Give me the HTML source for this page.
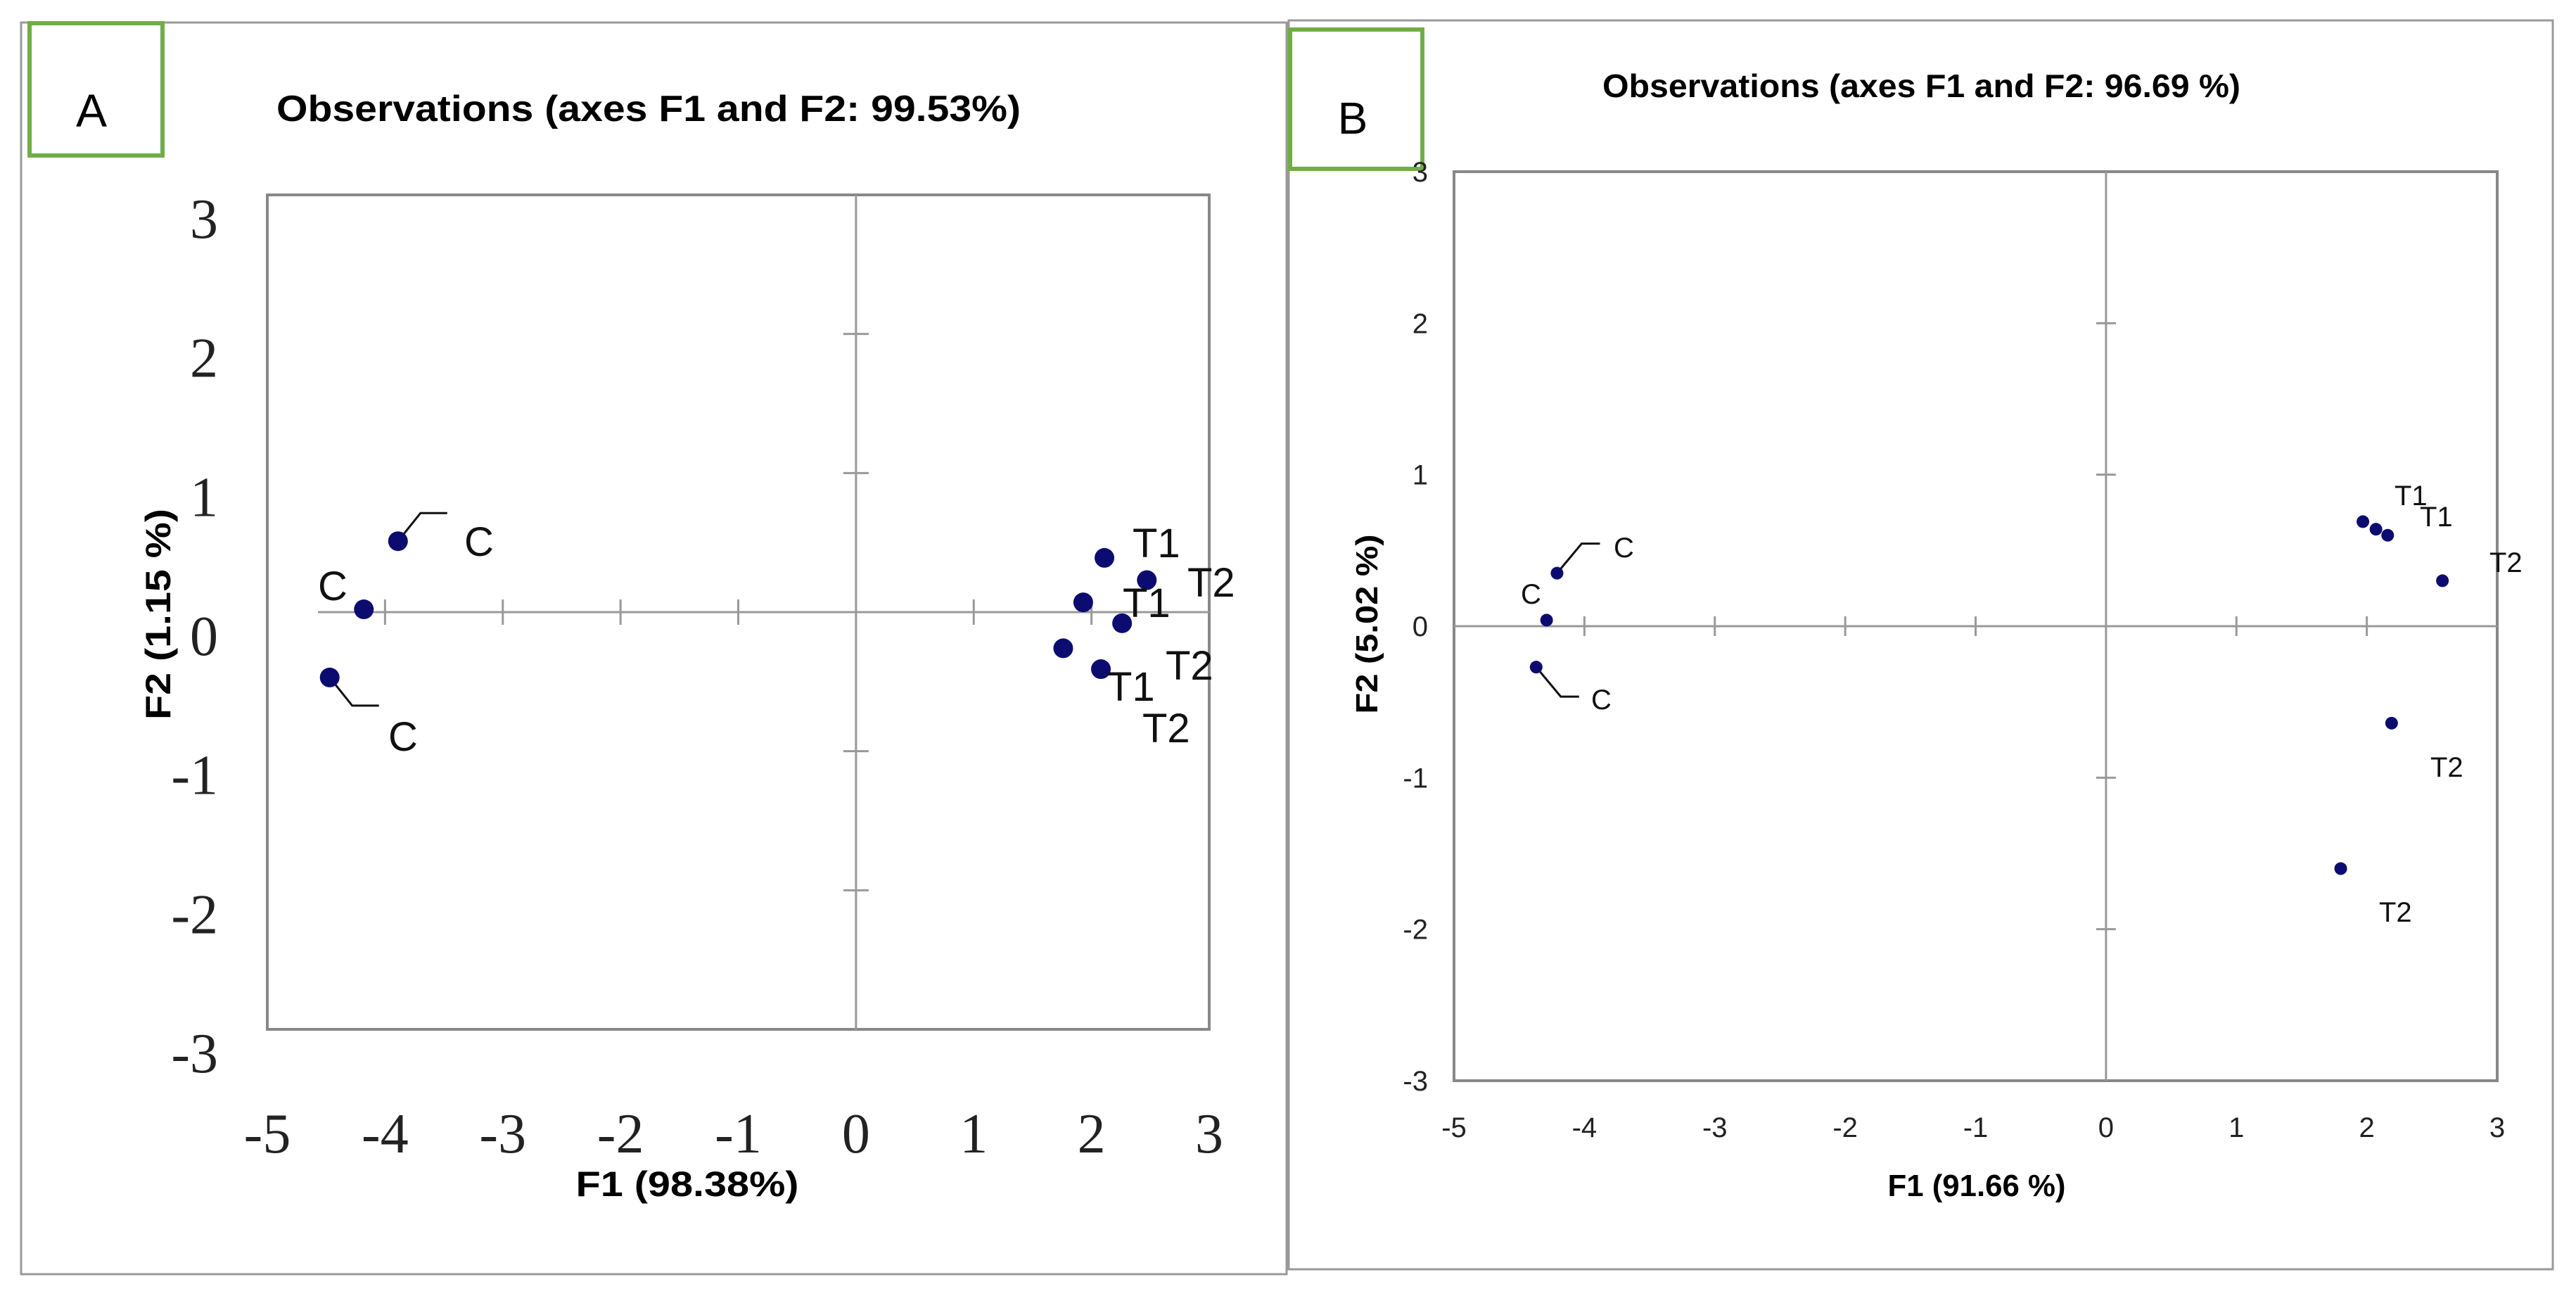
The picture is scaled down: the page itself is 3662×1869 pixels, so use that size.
<!DOCTYPE html>
<html><head><meta charset="utf-8"><style>
html,body{margin:0;padding:0;background:#fff;}
svg{display:block;font-family:"Liberation Sans",sans-serif;}
</style></head><body>
<svg id="fig" width="3662" height="1869" viewBox="0 0 3662 1869" xmlns="http://www.w3.org/2000/svg">
<rect x="0" y="0" width="3662" height="1869" fill="#fff"/>
<rect x="30" y="32" width="1799" height="1779" fill="none" stroke="#999" stroke-width="3"/>
<rect x="42" y="33" width="189" height="188" fill="none" stroke="#70ad47" stroke-width="6"/>
<text x="130" y="180" font-size="66" text-anchor="middle">A</text>
<text x="393" y="172" font-size="52" font-weight="bold" textLength="1058" lengthAdjust="spacingAndGlyphs">Observations (axes F1 and F2: 99.53%)</text>
<text x="977" y="1700" font-size="50" font-weight="bold" text-anchor="middle" textLength="317" lengthAdjust="spacingAndGlyphs">F1 (98.38%)</text>
<text transform="translate(242,873) rotate(-90)" font-size="50" font-weight="bold" text-anchor="middle" textLength="300" lengthAdjust="spacingAndGlyphs">F2 (1.15 %)</text>
<rect x="1832" y="29" width="1797" height="1775" fill="none" stroke="#999" stroke-width="3"/>
<rect x="1834" y="42" width="188" height="198" fill="none" stroke="#70ad47" stroke-width="6"/>
<text x="1923" y="190" font-size="64" text-anchor="middle">B</text>
<text x="2278" y="138" font-size="46" font-weight="bold" textLength="907" lengthAdjust="spacingAndGlyphs">Observations (axes F1 and F2: 96.69 %)</text>
<text x="2810" y="1700" font-size="44" font-weight="bold" text-anchor="middle" textLength="253" lengthAdjust="spacingAndGlyphs">F1 (91.66 %)</text>
<text transform="translate(1958,887) rotate(-90)" font-size="44" font-weight="bold" text-anchor="middle" textLength="255" lengthAdjust="spacingAndGlyphs">F2 (5.02 %)</text>
</svg>
<script>
const ticksX = [-5,-4,-3,-2,-1,0,1,2,3];
const ticksY = [-3,-2,-1,0,1,2,3];
const labelsA = ['C','C','C','T1','T2','T1','T1','T2','T1'];
const xA = [-3.89,-4.18,-4.47,2.11,2.47,1.93,2.26,1.76,2.08];
const yA = [0.51,0.02,-0.47,0.39,0.23,0.07,-0.08,-0.26,-0.41];
const labelsB = ['C','C','C','T1','T1','T1','T2','T2','T2'];
const xB = [-4.21,-4.29,-4.37,1.97,2.07,2.16,2.58,2.19,1.80];
const yB = [0.35,0.04,-0.27,0.69,0.64,0.60,0.30,-0.64,-1.60];
const textA = ['C','C','C','T1','T2','T1','T2','T1','T2'];
const textB = ['C','C','C','T1','T1','T2','T2','T2'];

const NS='http://www.w3.org/2000/svg';
const svg=document.getElementById('fig');
function mk(tag,attrs){const e=document.createElementNS(NS,tag);for(const k in attrs)e.setAttribute(k,attrs[k]);svg.appendChild(e);return e;}

function panel(p){
  const sx=v=>p.x0+(v-(-5))/8*(p.x1-p.x0);
  const sy=v=>p.y1-(v-(-3))/6*(p.y1-p.y0);
  let e=mk('rect',{x:p.x0,y:p.y0,width:p.x1-p.x0,height:p.y1-p.y0,fill:'none',stroke:p.frame,'stroke-width':p.fw});
  
  
  e=mk('line',{x1:p.hx0,x2:p.x1,y1:sy(0),y2:sy(0),stroke:'#999','stroke-width':3});
  
  
  e=mk('line',{x1:sx(0),x2:sx(0),y1:p.y0,y2:p.y1,stroke:'#999','stroke-width':3});
  
  
  ticksX.forEach(t=>{
    if(t>-5&&t<3&&t!==0){
      const l=mk('line',{x1:sx(t),x2:sx(t),y1:sy(0)-p.tk,y2:sy(0)+p.tk,stroke:'#999','stroke-width':3});
      
      
    }
    const tx=mk('text',{x:sx(t),y:p.xly,'font-size':p.tfs,'text-anchor':'middle',fill:'#222',style:'font-family:'+p.tff});
    tx.textContent=String(t);
    
    
  });
  ticksY.forEach(t=>{
    if(t>-3&&t<3&&t!==0){
      const l=mk('line',{x1:sx(0)-p.tk,x2:sx(0)+p.tk,y1:sy(t),y2:sy(t),stroke:'#999','stroke-width':3});
      
      
    }
    const tx=mk('text',{x:p.ylx,y:sy(t)+p.tfs*0.35+p.yoff,'font-size':p.tfs,'text-anchor':'end',fill:'#222',style:'font-family:'+p.tff});
    tx.textContent=String(t);
    
    
  });
  const ld=p.leader;
  [[0,-1],[2,1]].forEach(([i,d])=>{
    const px=sx(p.xs[i]),py=sy(p.ys[i]);
    const l=mk('polyline',{points:`${px},${py} ${px+ld[0]},${py+d*ld[1]} ${px+ld[0]+ld[2]},${py+d*ld[1]}`,fill:'none',stroke:'#111','stroke-width':3});
    
    
  });
  p.xs.forEach((v,i)=>{
    const c=mk('circle',{cx:sx(v),cy:sy(p.ys[i]),r:p.r,fill:'#0c0c70'});
    
    
  });
  p.texts.forEach((t,i)=>{
    const tx=mk('text',{x:p.tpos[i][0],y:p.tpos[i][1],'font-size':p.lfs,fill:'#111'});
    tx.textContent=t;
    
    
  });
}

panel({id:'panel-a',x0:380,x1:1719,y0:277,y1:1463,hx0:452,frame:'#888',fw:4,tk:18,
  xs:xA,ys:yA,names:labelsA,texts:textA,r:14,lfs:58,
  tpos:[[660,790],[452,853],[552,1067],[1610,792],[1688,848],[1596,877],[1657,966],[1574,996],[1624,1055]],
  leader:[32,40,38],
  xly:1638,ylx:310,tfs:80,tff:'"Liberation Serif",serif',yoff:33});
panel({id:'panel-b',x0:2067,x1:3550,y0:244,y1:1536,hx0:2067,frame:'#888',fw:4,tk:14,
  xs:xB,ys:yB,names:labelsB,texts:textB,r:9,lfs:40,
  tpos:[[2294,792],[2162,858],[2262,1008],[3404,718],[3440,748],[3539,813],[3455,1104],[3382,1310]],
  leader:[35,42,26],
  xly:1616,ylx:2030,tfs:40,tff:'"Liberation Sans",sans-serif',yoff:0});
</script>
</body></html>
